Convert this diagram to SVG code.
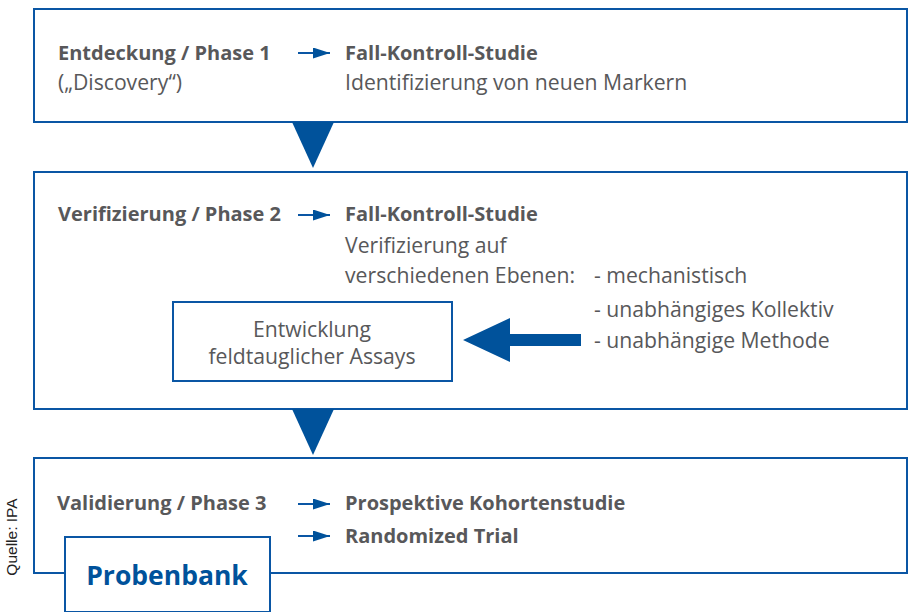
<svg xmlns="http://www.w3.org/2000/svg" width="910" height="612" viewBox="0 0 910 612">
<defs>
<style>
.box{fill:#fff;stroke:#0a56a4;stroke-width:2}
.t{font-family:"Open Sans","Noto Sans",sans-serif;font-size:21.2px;fill:#58585a}
.b{font-weight:bold;font-size:20px}
.blue{fill:#00529b}
.ln{stroke:#0a56a4;stroke-width:2;fill:none}
</style>
<marker id="ah" viewBox="0 0 17 11" refX="17" refY="5.5" markerWidth="17" markerHeight="11" markerUnits="userSpaceOnUse" orient="auto">
<path d="M0,0 L17,5.5 L0,11 Z" fill="#00529b"/>
</marker>
</defs>
<rect width="910" height="612" fill="#fff"/>
<g id="phase1">
<rect class="box" x="34" y="9" width="873" height="113"/>
<text class="t b" x="58" y="60">Entdeckung / Phase 1</text>
<text class="t" x="58" y="90">(„Discovery“)</text>
<text class="t b" x="345" y="60">Fall-Kontroll-Studie</text>
<text class="t" x="345" y="90">Identifizierung von neuen Markern</text>
</g>
<g id="phase2">
<rect class="box" x="34" y="172" width="873" height="237"/>
<text class="t b" x="58" y="221">Verifizierung / Phase 2</text>
<text class="t b" x="345" y="221">Fall-Kontroll-Studie</text>
<text class="t" x="345" y="253">Verifizierung auf</text>
<text class="t" x="345" y="283">verschiedenen Ebenen:</text>
<text class="t" x="594" y="283">- mechanistisch</text>
<text class="t" x="594" y="317">- unabhängiges Kollektiv</text>
<text class="t" x="594" y="348">- unabhängige Methode</text>
</g>
<g id="assays">
<rect class="box" x="173" y="302" width="279" height="79"/>
<text class="t" x="312" y="337" text-anchor="middle">Entwicklung</text>
<text class="t" x="312" y="364" text-anchor="middle">feldtauglicher Assays</text>
</g>
<g id="phase3">
<rect class="box" x="34" y="458" width="873" height="115"/>
<text class="t b" x="57" y="510">Validierung / Phase 3</text>
<text class="t b" x="345" y="510">Prospektive Kohortenstudie</text>
<text class="t b" x="345" y="543">Randomized Trial</text>
</g>
<g id="probenbank">
<rect class="box" x="65" y="537" width="205" height="75"/>
<text class="t b blue" x="167" y="585" text-anchor="middle" style="font-size:26.5px">Probenbank</text>
</g>
<g id="connectors">
<polygon points="292,122 334,122 313,168" fill="#00529b"/>
<polygon points="292,409 334,409 313,455" fill="#00529b"/>
<polygon points="463,340 510,318 510,334 581,334 581,346 510,346 510,362" fill="#00529b"/>
<line class="ln" x1="298" y1="53" x2="330" y2="53" marker-end="url(#ah)"/>
<line class="ln" x1="298" y1="215" x2="330" y2="215" marker-end="url(#ah)"/>
<line class="ln" x1="298" y1="504" x2="330" y2="504" marker-end="url(#ah)"/>
<line class="ln" x1="298" y1="536" x2="330" y2="536" marker-end="url(#ah)"/>
</g>
<text x="17" y="537" transform="rotate(-90 17 537)" text-anchor="middle" font-family="Liberation Sans, Arial, sans-serif" font-size="15.5" fill="#222">Quelle: IPA</text>
</svg>
